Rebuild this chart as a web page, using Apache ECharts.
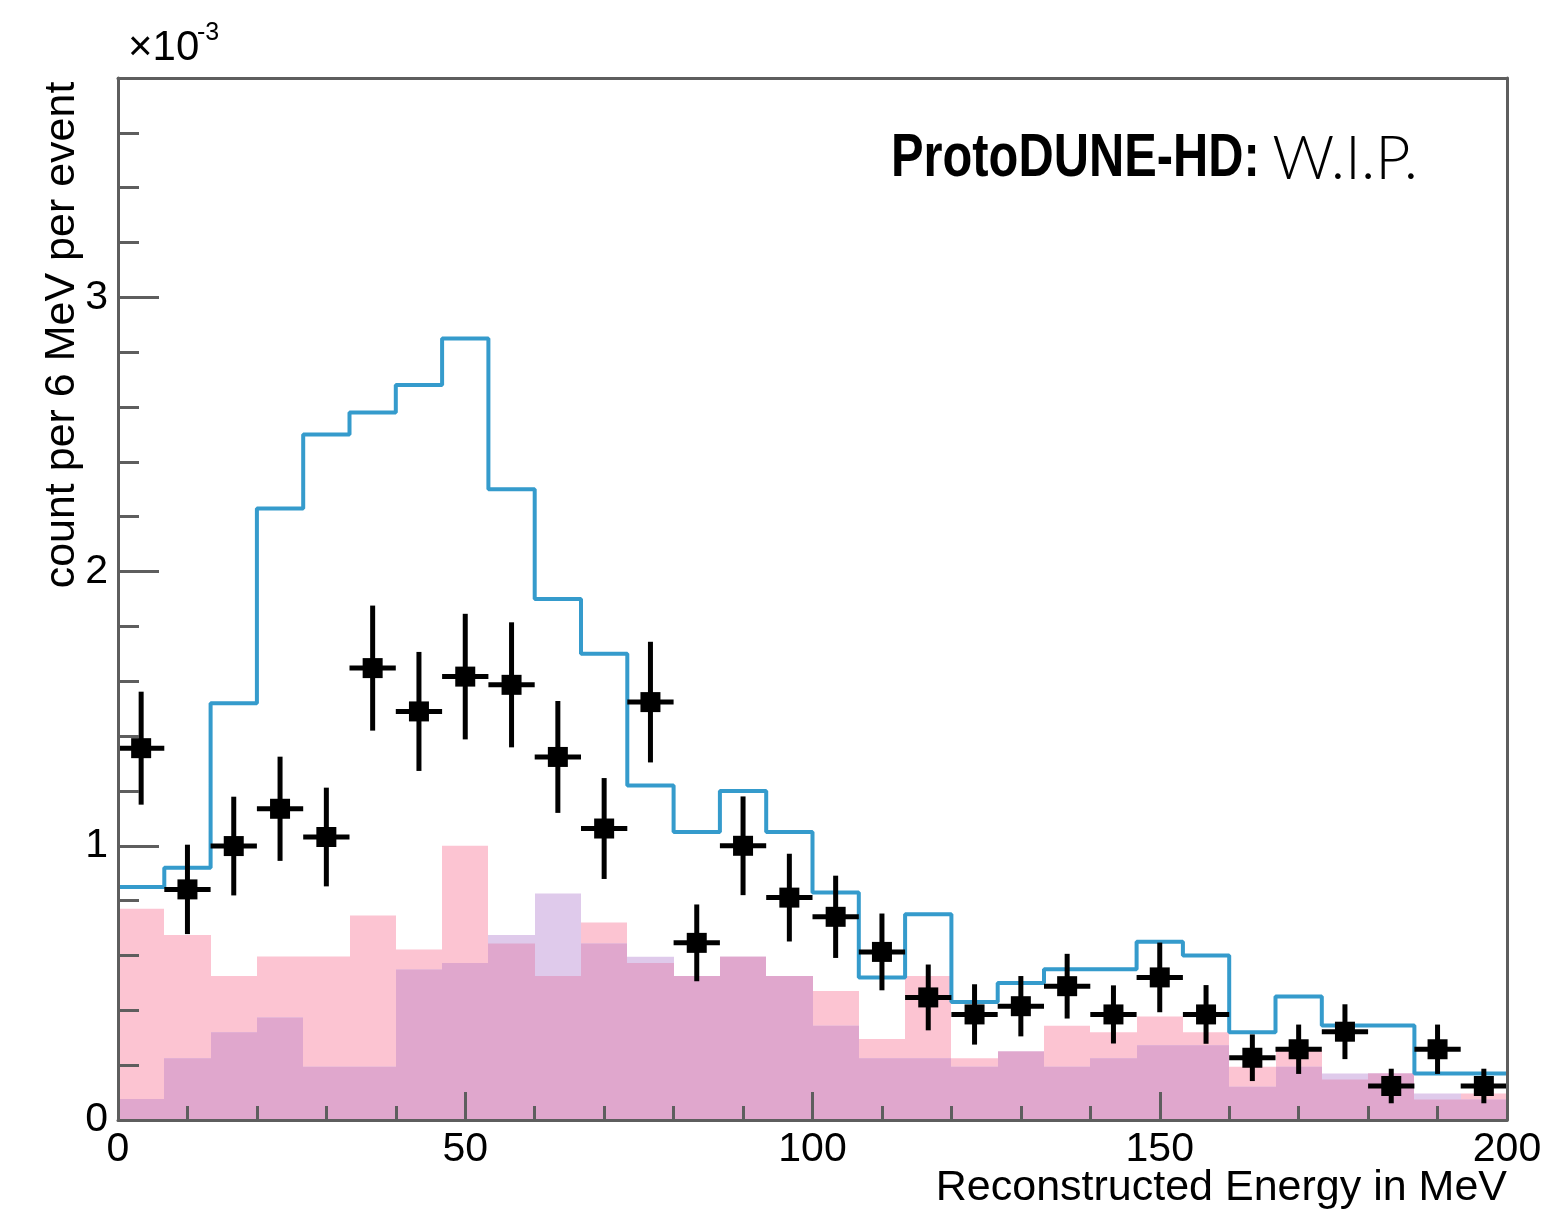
<!DOCTYPE html>
<html>
<head>
<meta charset="utf-8">
<title>ProtoDUNE-HD reconstructed energy</title>
<script src="https://cdn.jsdelivr.net/npm/echarts@6/dist/echarts.min.js"></script>
<style>
  html, body { margin: 0; padding: 0; background: #fff; }
  #chart { width: 1568px; height: 1217px; }
</style>
</head>
<body>
<div id="chart"></div>
<script>
// values are in units of 1e-3 (count per 6 MeV per event), 30 bins over 0-200 MeV
const xMin = 0;
const xMax = 200;
const nBins = 30;
const binWidth = (xMax - xMin) / nBins;

// blue outline histogram
const mcTotal = [0.85, 0.92, 1.52, 2.23, 2.50, 2.58, 2.68, 2.85, 2.30, 1.90,
                 1.70, 1.22, 1.05, 1.20, 1.05, 0.83, 0.52, 0.75, 0.43, 0.50,
                 0.55, 0.55, 0.65, 0.60, 0.32, 0.45, 0.345, 0.345, 0.17, 0.17];
// pink filled histogram
const pinkHist = [0.77, 0.675, 0.525, 0.596, 0.596, 0.746, 0.622, 1.00, 0.644, 0.525,
                  0.72, 0.573, 0.525, 0.595, 0.525, 0.47, 0.295, 0.525, 0.225, 0.25,
                  0.344, 0.32, 0.377, 0.32, 0.194, 0.255, 0.148, 0.17, 0.075, 0.097];
// lavender filled histogram
const purpleHist = [0.077, 0.225, 0.32, 0.374, 0.194, 0.194, 0.549, 0.573, 0.675, 0.826,
                    0.644, 0.595, 0.525, 0.595, 0.525, 0.344, 0.225, 0.225, 0.194, 0.25,
                    0.194, 0.225, 0.273, 0.273, 0.121, 0.194, 0.17, 0.17, 0.097, 0.075];
// data points and their errors
const dataVals = [1.356, 0.841, 0.999, 1.135, 1.032, 1.648, 1.49, 1.617, 1.587, 1.324,
                  1.063, 1.524, 0.646, 1.0, 0.811, 0.741, 0.613, 0.447, 0.385, 0.415,
                  0.488, 0.385, 0.52, 0.385, 0.227, 0.258, 0.322, 0.124, 0.258, 0.124];
const dataErr = [0.206, 0.163, 0.18, 0.19, 0.18, 0.228, 0.217, 0.229, 0.228, 0.204,
                 0.184, 0.22, 0.14, 0.18, 0.16, 0.15, 0.14, 0.12, 0.11, 0.11,
                 0.118, 0.106, 0.127, 0.107, 0.085, 0.09, 0.1, 0.063, 0.09, 0.063];

const yMax = 3.8;
const yLabels = ['0', '1', '2', '3'];

const axisGrey = '#5e5e5e';
const font = 'Liberation Sans, Arial, sans-serif';

const chart = echarts.init(document.getElementById('chart'));

// filled histogram drawn as one rect per bin
function histSeries(values, color, z) {
    return {
        type: 'custom',
        silent: true,
        clip: true,
        z: z,
        data: values.map((v, i) => [xMin + i * binWidth, xMin + (i + 1) * binWidth, v]),
        encode: {x: [0, 1], y: 2},
        renderItem: function (params, api) {
            const p0 = api.coord([api.value(0), api.value(2)]);
            const p1 = api.coord([api.value(1), 0]);
            const x0 = Math.round(p0[0]), x1 = Math.round(p1[0]);
            return {
                type: 'rect',
                shape: {x: x0, y: p0[1], width: x1 - x0, height: p1[1] - p0[1]},
                style: {fill: color}
            };
        }
    };
}

// overlap of the two filled histograms
const overlapHist = pinkHist.map((v, i) => Math.min(v, purpleHist[i]));

chart.setOption({
    animation: false,
    backgroundColor: '#fff',
    grid: {left: 118, right: 61, top: 78, bottom: 97, show: false},
    xAxis: [{
        type: 'value',
        min: xMin,
        max: xMax,
        interval: 50,
        z: 10,
        axisLine: {show: true, onZero: false, lineStyle: {color: axisGrey, width: 3}},
        axisTick: {show: true, inside: true, length: 28, lineStyle: {color: axisGrey, width: 3}},
        minorTick: {show: true, splitNumber: 5, length: 14, lineStyle: {color: axisGrey, width: 3}},
        splitLine: {show: false},
        axisLabel: {fontSize: 41, color: '#000', fontFamily: font, margin: 9}
    }, {
        // top frame line
        type: 'value',
        position: 'top',
        min: xMin,
        max: xMax,
        z: 10,
        axisLine: {show: true, onZero: false, lineStyle: {color: axisGrey, width: 3}},
        axisTick: {show: false},
        axisLabel: {show: false},
        splitLine: {show: false}
    }],
    yAxis: [{
        type: 'value',
        min: 0,
        max: yMax,
        interval: 1,
        z: 10,
        axisLine: {show: true, onZero: false, lineStyle: {color: axisGrey, width: 3}},
        axisTick: {show: true, inside: true, length: 41, lineStyle: {color: axisGrey, width: 3}},
        splitLine: {show: false},
        axisLabel: {
            fontSize: 41, color: '#000', fontFamily: font, margin: 10,
            showMaxLabel: false,
            formatter: function (v) {
                const idx = yLabels.indexOf(String(v));
                return idx >= 0 ? yLabels[idx] : '';
            }
        }
    }, {
        // minor ticks every 0.2
        type: 'value',
        position: 'left',
        min: 0,
        max: yMax,
        interval: 0.2,
        z: 10,
        axisLine: {show: false},
        axisTick: {show: true, inside: true, length: 21, lineStyle: {color: axisGrey, width: 3}},
        axisLabel: {show: false},
        splitLine: {show: false}
    }, {
        // right frame line
        type: 'value',
        position: 'right',
        min: 0,
        max: yMax,
        z: 10,
        axisLine: {show: true, onZero: false, lineStyle: {color: axisGrey, width: 3}},
        axisTick: {show: false},
        axisLabel: {show: false},
        splitLine: {show: false}
    }],
    series: [
        histSeries(pinkHist, '#fcc4d2', 2),
        histSeries(purpleHist, '#dfcaeb', 2),
        histSeries(overlapHist, '#e0a7cd', 3),
        {
            type: 'line',
            step: 'end',
            z: 4,
            symbol: 'none',
            silent: true,
            lineStyle: {color: '#359bcc', width: 4},
            data: mcTotal.map((v, i) => [xMin + i * binWidth, v])
                .concat([[xMax, mcTotal[mcTotal.length - 1]]])
        },
        {
            type: 'custom',
            z: 5,
            silent: true,
            data: dataVals.map((v, i) => [xMin + (i + 0.5) * binWidth, v, dataErr[i]]),
            encode: {x: 0, y: 1},
            renderItem: function (params, api) {
                const x = api.value(0), y = api.value(1), e = api.value(2);
                const c = api.coord([x, y]);
                const top = api.coord([x, y + e]);
                const bot = api.coord([x, y - e]);
                const l = api.coord([x - binWidth / 2, y]);
                const r = api.coord([x + binWidth / 2, y]);
                const s = 20;
                return {
                    type: 'group',
                    children: [
                        {type: 'line', shape: {x1: c[0], y1: top[1], x2: c[0], y2: bot[1]},
                         style: {stroke: '#000', lineWidth: 5}},
                        {type: 'line', shape: {x1: l[0], y1: c[1], x2: r[0], y2: c[1]},
                         style: {stroke: '#000', lineWidth: 5}},
                        {type: 'rect', shape: {x: c[0] - s / 2, y: c[1] - s / 2, width: s, height: s},
                         style: {fill: '#000'}}
                    ]
                };
            }
        }
    ],
    graphic: [
        {
            type: 'text', x: 62, y: 335, rotation: Math.PI / 2,
            style: {
                text: 'count per 6 MeV per event', fill: '#000',
                font: '43px "Liberation Sans", Arial, sans-serif',
                align: 'center', verticalAlign: 'middle',
                textAlign: 'center', textVerticalAlign: 'middle'
            }
        },
        {
            type: 'text', x: 1507, y: 1188,
            style: {
                text: 'Reconstructed Energy in MeV', fill: '#000',
                font: '43px "Liberation Sans", Arial, sans-serif',
                align: 'right', verticalAlign: 'middle',
                textAlign: 'right', textVerticalAlign: 'middle'
            }
        },
        {
            type: 'text', x: 128, y: 48,
            style: {
                text: '×10', fill: '#000',
                font: '42px "Liberation Sans", Arial, sans-serif',
                align: 'left', verticalAlign: 'middle',
                textAlign: 'left', textVerticalAlign: 'middle'
            }
        },
        {
            type: 'text', x: 197, y: 33,
            style: {
                text: '-3', fill: '#000',
                font: '25px "Liberation Sans", Arial, sans-serif',
                align: 'left', verticalAlign: 'middle',
                textAlign: 'left', textVerticalAlign: 'middle'
            }
        },
        {
            // condensed bold label: squeeze horizontally
            type: 'text', x: 891, y: 159, scaleX: 0.8,
            style: {
                text: 'ProtoDUNE-HD:', fill: '#000',
                font: 'bold 61px "Liberation Sans", Arial, sans-serif',
                align: 'left', verticalAlign: 'middle',
                textAlign: 'left', textVerticalAlign: 'middle'
            }
        },
        {
            type: 'text', x: 1418, y: 159,
            style: {
                text: 'W.I.P.', fill: '#000',
                font: '300 61px Lato, "Liberation Sans", sans-serif',
                align: 'right', verticalAlign: 'middle',
                textAlign: 'right', textVerticalAlign: 'middle'
            }
        }
    ]
});
</script>
</body>
</html>
